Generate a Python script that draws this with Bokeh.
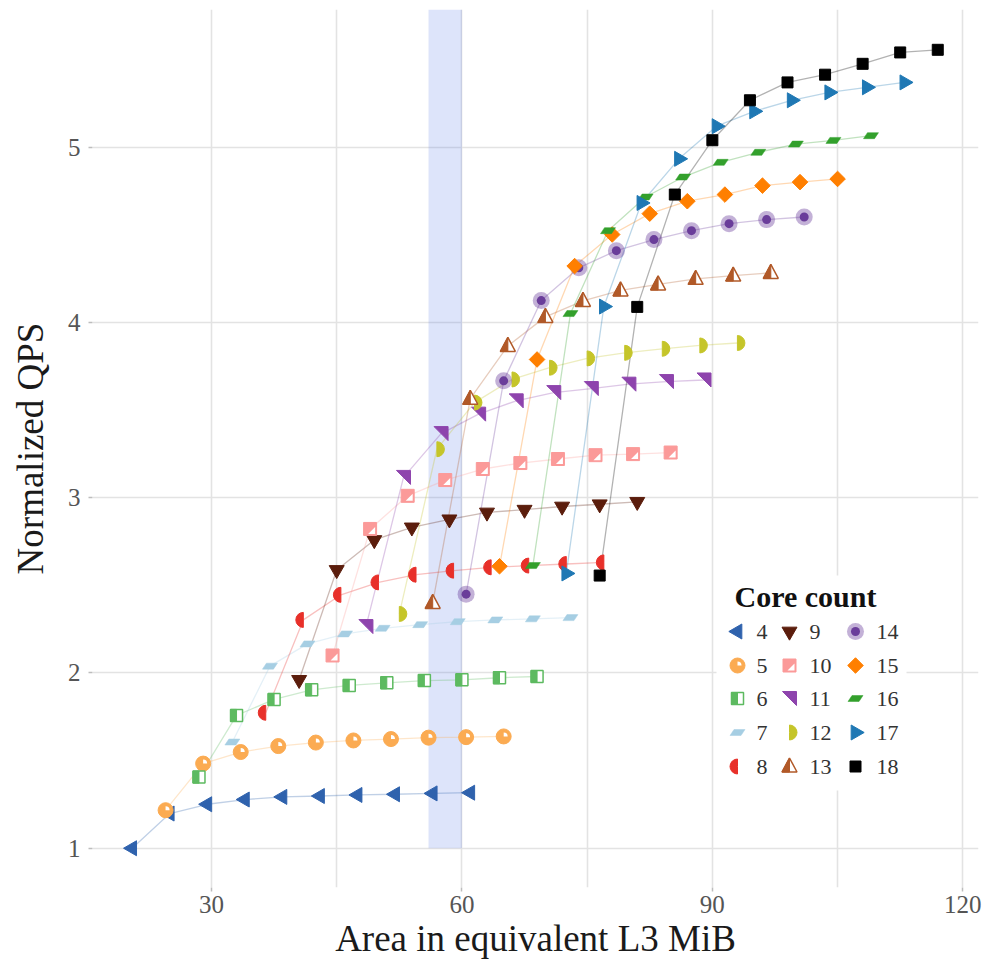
import math
from bokeh.plotting import figure
from bokeh.models import FixedTicker, BoxAnnotation
from bokeh.core.properties import value
from bokeh.embed import file_html
from bokeh.resources import INLINE

# ---------------- data ----------------
core_counts = [4, 5, 6, 7, 8, 9, 10, 11, 12, 13, 14, 15, 16, 17, 18]

area_4 = [20.5, 25, 29.5, 34, 38.5, 43, 47.5, 52, 56.5, 61]
area_5 = [24.5, 29, 33.5, 38, 42.5, 47, 51.5, 56, 60.5, 65]
area_6 = [28.5, 33, 37.5, 42, 46.5, 51, 55.5, 60, 64.5, 69]
area_7 = [32.5, 37, 41.5, 46, 50.5, 55, 59.5, 64, 68.5, 73]
area_8 = [36.5, 41, 45.5, 50, 54.5, 59, 63.5, 68, 72.5, 77]
area_9 = [40.5, 45, 49.5, 54, 58.5, 63, 67.5, 72, 76.5, 81]
area_10 = [44.5, 49, 53.5, 58, 62.5, 67, 71.5, 76, 80.5, 85]
area_11 = [48.5, 53, 57.5, 62, 66.5, 71, 75.5, 80, 84.5, 89]
area_12 = [52.5, 57, 61.5, 66, 70.5, 75, 79.5, 84, 88.5, 93]
area_13 = [56.5, 61, 65.5, 70, 74.5, 79, 83.5, 88, 92.5, 97]
area_14 = [60.5, 65, 69.5, 74, 78.5, 83, 87.5, 92, 96.5, 101]
area_15 = [64.5, 69, 73.5, 78, 82.5, 87, 91.5, 96, 100.5, 105]
area_16 = [68.5, 73, 77.5, 82, 86.5, 91, 95.5, 100, 104.5, 109]
area_17 = [72.5, 77, 81.5, 86, 90.5, 95, 99.5, 104, 108.5, 113]
area_18 = [76.5, 81, 85.5, 90, 94.5, 99, 103.5, 108, 112.5, 117]

qps_4 = [1.000, 1.198, 1.251, 1.278, 1.293, 1.298, 1.304, 1.308, 1.313, 1.317]
qps_5 = [1.217, 1.483, 1.549, 1.583, 1.603, 1.615, 1.623, 1.631, 1.634, 1.638]
qps_6 = [1.406, 1.758, 1.849, 1.904, 1.929, 1.944, 1.957, 1.961, 1.973, 1.980]
qps_7 = [1.606, 2.039, 2.166, 2.223, 2.255, 2.276, 2.293, 2.303, 2.309, 2.316]
qps_8 = [1.773, 2.303, 2.446, 2.517, 2.561, 2.584, 2.603, 2.613, 2.622, 2.631]
qps_9 = [1.961, 2.588, 2.759, 2.831, 2.877, 2.916, 2.932, 2.950, 2.963, 2.977]
qps_10 = [2.100, 2.822, 3.011, 3.101, 3.164, 3.198, 3.221, 3.243, 3.249, 3.258]
qps_11 = [2.265, 3.116, 3.366, 3.477, 3.553, 3.600, 3.623, 3.648, 3.663, 3.672]
qps_12 = [2.337, 3.277, 3.543, 3.675, 3.742, 3.795, 3.827, 3.850, 3.869, 3.883]
qps_13 = [2.400, 3.565, 3.866, 4.032, 4.123, 4.183, 4.217, 4.249, 4.268, 4.283]
qps_14 = [2.450, 3.667, 4.125, 4.312, 4.410, 4.473, 4.524, 4.564, 4.587, 4.602]
qps_15 = [2.609, 3.789, 4.322, 4.502, 4.621, 4.692, 4.730, 4.781, 4.801, 4.819]
qps_16 = [2.613, 4.051, 4.524, 4.716, 4.830, 4.914, 4.971, 5.018, 5.039, 5.066]
qps_17 = [2.568, 4.091, 4.682, 4.934, 5.120, 5.205, 5.268, 5.313, 5.342, 5.370]
qps_18 = [2.556, 4.089, 4.730, 5.040, 5.268, 5.370, 5.414, 5.476, 5.541, 5.556]

areas = [area_4, area_5, area_6, area_7, area_8, area_9, area_10, area_11,
         area_12, area_13, area_14, area_15, area_16, area_17, area_18]
qpss = [qps_4, qps_5, qps_6, qps_7, qps_8, qps_9, qps_10, qps_11,
        qps_12, qps_13, qps_14, qps_15, qps_16, qps_17, qps_18]

highlight_band = (56, 60)   # shaded region on x
x_ticks = [30, 60, 90, 120]
x_minor = [45, 75, 105]
y_ticks = [1, 2, 3, 4, 5]

# ---------------- styling ----------------
colors = ["#2f62ad", "#fbab52", "#5dba60", "#a6cee3", "#e8302a", "#5b1d0c",
          "#fb9a99", "#8e44ad", "#c5c52a", "#b15928", "#6a3d9a", "#ff7f00",
          "#33a02c", "#1f78b4", "#000000"]
shapes = ["tri_left", "ball", "half_sq", "para", "half_left", "tri_down",
          "sq_diag", "rt_tri", "half_right", "tri_half", "halo", "diamond",
          "para", "tri_right", "square"]

SERIF = "Liberation Serif"
FRAME_L, FRAME_T, FRAME_W, FRAME_H = 92, 9, 886, 878
X0, X1 = 15.745, 121.88
Y0, Y1 = 0.776, 5.786
DX = (X1 - X0) / FRAME_W
DY = (Y1 - Y0) / FRAME_H


def px_x(px):
    return X0 + (px - FRAME_L) * DX


def px_y(py):
    return Y1 - (py - FRAME_T) * DY


p = figure(frame_width=FRAME_W, frame_height=FRAME_H,
           x_range=(X0, X1), y_range=(Y0, Y1),
           output_backend="svg", toolbar_location=None,
           min_border_left=FRAME_L, min_border_top=FRAME_T,
           min_border_right=998 - FRAME_L - FRAME_W,
           min_border_bottom=966 - FRAME_T - FRAME_H)
p.outline_line_color = None
p.background_fill_color = "white"

GRID = "#e3e3e3"
p.xaxis.ticker = FixedTicker(ticks=x_ticks, minor_ticks=x_minor)
p.yaxis.ticker = FixedTicker(ticks=y_ticks)
p.xgrid.grid_line_color = GRID
p.xgrid.grid_line_width = 1.6
p.xgrid.minor_grid_line_color = GRID
p.xgrid.minor_grid_line_width = 1.6
p.ygrid.grid_line_color = GRID
p.ygrid.grid_line_width = 1.6

for ax in (p.xaxis[0], p.yaxis[0]):
    ax.axis_line_color = None
    ax.major_tick_line_color = "#bdbdbd"
    ax.major_tick_line_width = 1.5
    ax.major_tick_out = 4
    ax.major_tick_in = 0
    ax.minor_tick_line_color = None
    ax.major_label_text_font = SERIF
    ax.major_label_text_font_size = "25px"
    ax.major_label_text_color = "#555555"
    ax.axis_label_text_font = SERIF
    ax.axis_label_text_font_size = "37px"
    ax.axis_label_text_font_style = "normal"
    ax.axis_label_text_color = "#1a1a1a"

p.xaxis.axis_label = "Area in equivalent L3 MiB"
p.yaxis.axis_label = "Normalized QPS"
p.xaxis.major_label_standoff = 4
p.xaxis.axis_label_standoff = 2
p.yaxis.major_label_standoff = 8
p.yaxis.axis_label_standoff = 14

p.add_layout(BoxAnnotation(left=highlight_band[0], right=highlight_band[1],
                           bottom=1, top=Y1, fill_color="#4169e1",
                           fill_alpha=0.18, line_color=None, level="underlay"))

# connecting lines
for xs, ys, c in zip(areas, qpss, colors):
    p.line(xs, ys, line_color=c, line_alpha=0.3, line_width=1.3)


def poly(xs, ys, verts):
    return ([[x + vx * DX for vx, vy in verts] for x in xs],
            [[y + vy * DY for vx, vy in verts] for y in ys])


def draw(kind, xs, ys, c):
    if kind == "tri_left":
        p.scatter(xs, ys, marker="triangle", angle=math.pi / 2, size=15,
                  fill_color=c, line_color=c)
    elif kind == "tri_right":
        p.scatter(xs, ys, marker="triangle", angle=-math.pi / 2, size=15,
                  fill_color=c, line_color=c)
    elif kind == "tri_down":
        p.scatter(xs, ys, marker="inverted_triangle", size=15,
                  fill_color=c, line_color=c)
    elif kind == "diamond":
        p.scatter(xs, ys, marker="square", angle=math.pi / 4, size=11,
                  fill_color=c, line_color=c)
    elif kind == "square":
        p.scatter(xs, ys, marker="square", size=11, fill_color=c, line_color=c)
    elif kind == "ball":
        p.scatter(xs, ys, marker="circle", size=15, fill_color=c, line_color=c)
        p.wedge(xs, ys, radius=4, radius_units="screen", start_angle=0,
                end_angle=math.pi / 2, fill_color="white", line_color=None)
    elif kind == "halo":
        p.scatter(xs, ys, marker="circle", size=17, fill_color=c,
                  fill_alpha=0.4, line_color=None)
        p.scatter(xs, ys, marker="circle", size=9, fill_color=c, line_color=None)
    elif kind == "half_left":
        p.wedge(xs, ys, radius=7.5, radius_units="screen",
                start_angle=math.pi / 2, end_angle=3 * math.pi / 2,
                fill_color=c, line_color=c)
    elif kind == "half_right":
        p.wedge(xs, ys, radius=7.5, radius_units="screen",
                start_angle=-math.pi / 2, end_angle=math.pi / 2,
                fill_color=c, line_color=c)
    elif kind == "half_sq":
        a, b = poly(xs, ys, [(-6, -6), (6, -6), (6, 6), (-6, 6)])
        p.patches(a, b, fill_color="white", line_color=c, line_width=1.5)
        a, b = poly(xs, ys, [(-6, -6), (0, -6), (0, 6), (-6, 6)])
        p.patches(a, b, fill_color=c, line_color=c, line_width=1)
    elif kind == "sq_diag":
        a, b = poly(xs, ys, [(-6.5, -6.5), (6.5, -6.5), (6.5, 6.5), (-6.5, 6.5)])
        p.patches(a, b, fill_color=c, line_color=c, line_width=1)
        a, b = poly(xs, ys, [(-2, -5), (5, -5), (5, 2)])
        p.patches(a, b, fill_color="white", line_color=None)
    elif kind == "para":
        a, b = poly(xs, ys, [(-7.5, -3), (3.5, -3), (7.5, 3), (-3.5, 3)])
        p.patches(a, b, fill_color=c, line_color=c, line_width=0.5)
    elif kind == "rt_tri":
        a, b = poly(xs, ys, [(-7, 7), (7, 7), (7, -7)])
        p.patches(a, b, fill_color=c, line_color=c, line_width=1)
    elif kind == "tri_half":
        a, b = poly(xs, ys, [(0, 8.5), (-7.5, -5.5), (7.5, -5.5)])
        p.patches(a, b, fill_color="white", line_color=c, line_width=1.5)
        a, b = poly(xs, ys, [(0, 8.5), (-7.5, -5.5), (0, -5.5)])
        p.patches(a, b, fill_color=c, line_color=c, line_width=1)


for xs, ys, c, k in zip(areas, qpss, colors, shapes):
    draw(k, xs, ys, c)

# ---------------- legend (3 columns x 5 rows) ----------------
LEG_BOX = (716, 575, 906, 790)   # left, top, right, bottom in page px
p.quad(left=px_x(LEG_BOX[0]), right=px_x(LEG_BOX[2]),
       top=px_y(LEG_BOX[1]), bottom=px_y(LEG_BOX[3]),
       fill_color="white", line_color=None)
p.text(x=[px_x(734)], y=[px_y(596)], text=["Core count"],
       text_font=value(SERIF), text_font_size="30px", text_font_style="bold",
       text_color="#111111", text_baseline="middle", text_align="left")

col_marker_px = [737, 789, 855]
col_label_px = [756, 809, 876]
row_px = [631, 665, 698, 732, 766]
for i, (n, c, k) in enumerate(zip(core_counts, colors, shapes)):
    col, row = divmod(i, 5)
    mx, my = px_x(col_marker_px[col]), px_y(row_px[row])
    draw(k, [mx], [my], c)
    p.text(x=[px_x(col_label_px[col])], y=[my], text=[str(n)],
           text_font=value(SERIF), text_font_size="22px", text_color="#333333",
           text_baseline="middle", text_align="left")

open("out.html", "w").write(file_html(p, INLINE))
